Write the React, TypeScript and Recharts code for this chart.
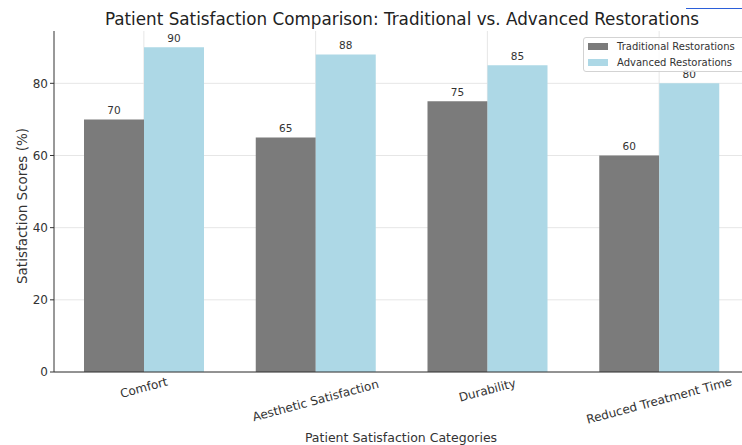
import { BarChart, Bar, XAxis, YAxis, CartesianGrid, LabelList } from "recharts";

const categories = ["Comfort", "Aesthetic Satisfaction", "Durability", "Reduced Treatment Time"];
const traditionalScores = [70, 65, 75, 60];
const advancedScores = [90, 88, 85, 80];
const yTicks = [0, 20, 40, 60, 80];

const series = [
  { key: "traditional", name: "Traditional Restorations", color: "#7b7b7b" },
  { key: "advanced", name: "Advanced Restorations", color: "#add8e6" },
];

const data = categories.map((category, i) => ({
  category,
  traditional: traditionalScores[i],
  advanced: advancedScores[i],
}));

const FONT = "'DejaVu Sans', sans-serif";
const TEXT = "#333";

// rotated category labels, top of the rotated box sits just under the axis
function CategoryTick({ x, y, payload }: any) {
  const label = String(payload.value);
  const w = label.length * 6.6;
  const rad = (15 * Math.PI) / 180;
  const boxH = w * Math.sin(rad) + 14 * Math.cos(rad);
  const cy = y + 3 + boxH / 2;
  return (
    <text
      x={x}
      y={cy}
      transform={`rotate(-15 ${x} ${cy})`}
      textAnchor="middle"
      dominantBaseline="central"
      fontSize={12}
      fontFamily={FONT}
      fill={TEXT}
    >
      {label}
    </text>
  );
}

export default function App() {
  return (
    <div style={{ position: "fixed", left: 0, top: 0, width: 742, height: 445, overflow: "hidden", background: "#fff", fontFamily: FONT }}>
      <BarChart
        width={760}
        height={445}
        data={data}
        margin={{ top: 31, right: 11, bottom: 0, left: 4 }}
        barSize={60}
        barGap={0}
      >
        {/* grid only on the ticks, no lines on the plot edges */}
        <CartesianGrid stroke="#e6e6e6" syncWithTicks />
        <XAxis
          dataKey="category"
          height={73}
          padding={{ left: 4, right: 4 }}
          tickLine={false}
          tickSize={0}
          tickMargin={0}
          axisLine={{ stroke: TEXT }}
          tick={<CategoryTick />}
          interval={0}
        />
        <YAxis
          width={50}
          domain={[0, 94.5]}
          ticks={yTicks}
          tickSize={4}
          tickMargin={2}
          axisLine={{ stroke: TEXT }}
          tickLine={{ stroke: TEXT }}
          tick={{ fontSize: 12, fill: TEXT, fontFamily: FONT }}
        />
        {series.map((s) => (
          <Bar key={s.key} dataKey={s.key} name={s.name} fill={s.color} isAnimationActive={false}>
            <LabelList dataKey={s.key} position="top" offset={5} fontSize={10.5} fill={TEXT} fontFamily={FONT} />
          </Bar>
        ))}
      </BarChart>

      <div style={{ position: "absolute", left: 2, width: 800, top: 11, textAlign: "center", fontSize: 16.8, lineHeight: 1, color: "#222", whiteSpace: "nowrap" }}>
        Patient Satisfaction Comparison: Traditional vs. Advanced Restorations
      </div>

      <div style={{ position: "absolute", left: 22, top: 206, transform: "translate(-50%, -50%) rotate(-90deg)", fontSize: 13.5, color: TEXT, whiteSpace: "nowrap" }}>
        Satisfaction Scores (%)
      </div>

      <div style={{ position: "absolute", left: 401, top: 437, transform: "translate(-50%, -50%)", fontSize: 12.5, color: TEXT, whiteSpace: "nowrap" }}>
        Patient Satisfaction Categories
      </div>

      <div style={{ position: "absolute", left: 583, top: 37, width: 170, height: 35, boxSizing: "border-box", border: "1px solid #d3d3d3", borderRadius: 3, background: "rgba(255,255,255,0.8)", fontSize: 10, color: TEXT }}>
        {series.map((s) => (
          <div key={s.key} style={{ display: "flex", alignItems: "center", height: 16, paddingLeft: 4 }}>
            <span style={{ width: 20, height: 7, background: s.color, marginRight: 9 }} />
            {s.name}
          </div>
        ))}
      </div>

      <div style={{ position: "absolute", left: 686, top: 8, width: 60, height: 1, background: "#2b5fd9" }} />
    </div>
  );
}
